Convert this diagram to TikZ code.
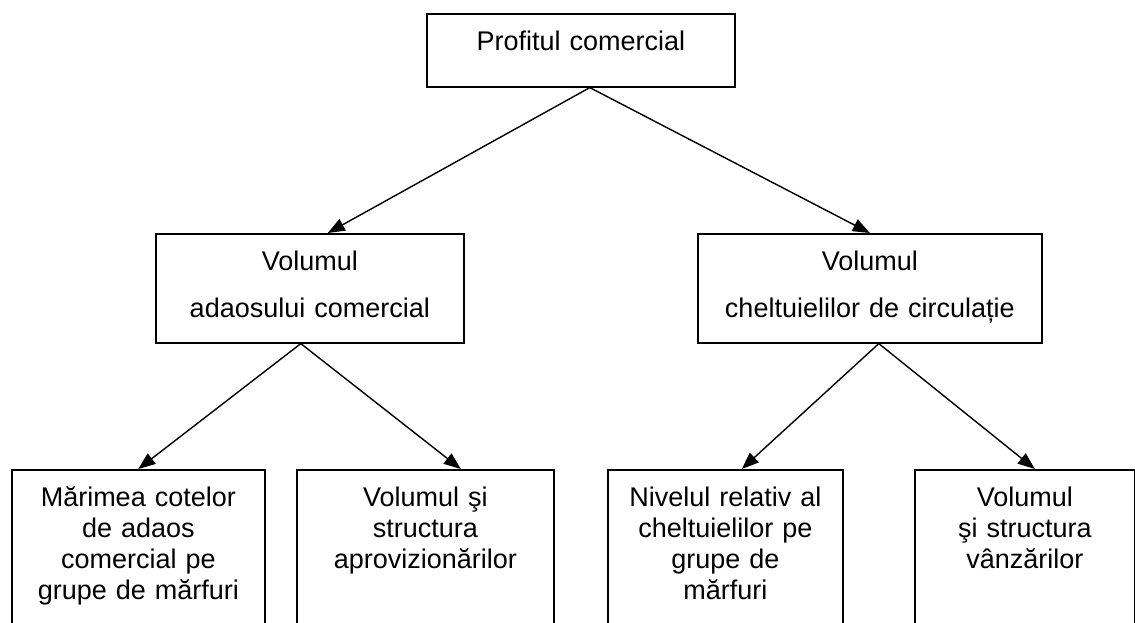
\documentclass[tikz,border=0pt]{standalone}
\usepackage{fontspec}
\setmainfont{Liberation Sans}
\usetikzlibrary{arrows.meta}

\begin{document}
\begin{tikzpicture}[
  x=1pt,y=-1pt,
  box/.style={draw=black,line width=1.6pt,inner sep=0pt,align=center,anchor=north west,
    font=\fontsize{27}{31}\selectfont,text height=36.5pt},
  wide/.style={font=\fontsize{27}{47}\selectfont,text depth=72.5pt},
  leaf/.style={text depth=134.5pt},
  arrow/.style={-{Triangle[length=17pt,width=13pt]},draw=black,line width=1.4pt}
]
  \useasboundingbox (0,0) rectangle (1135,623);
  % top level
  \node[box,text width=308pt,text depth=36.5pt] (profit) at (426,13) {Profitul comercial};
  % second level
  \node[box,wide,text width=308pt] (adaos) at (155,233) {Volumul\\adaosului comercial};
  \node[box,wide,text width=344pt] (cheltuieli) at (697,233) {Volumul\\cheltuielilor de circulație};
  % third level
  \node[box,leaf,text width=253pt] (marimea) at (11,469) {Mărimea cotelor\\de adaos\\comercial pe\\grupe de mărfuri};
  \node[box,leaf,text width=257pt] (aprov) at (296,469) {Volumul şi\\structura\\aprovizionărilor};
  \node[box,leaf,text width=235pt] (nivel) at (607,469) {Nivelul relativ al\\cheltuielilor pe\\grupe de\\mărfuri};
  \node[box,leaf,text width=220pt] (vanzari) at (914,469) {Volumul\\şi structura\\vânzărilor};
  \draw[arrow] ([xshift=9pt]profit.south) -- ([xshift=18pt]adaos.north);
  \draw[arrow] ([xshift=9pt]profit.south) -- (cheltuieli.north);
  \draw[arrow] ([xshift=-9pt]adaos.south) -- (marimea.north);
  \draw[arrow] ([xshift=-9pt]adaos.south) -- ([xshift=35.5pt]aprov.north);
  \draw[arrow] ([xshift=9pt]cheltuieli.south) -- ([xshift=16.5pt]nivel.north);
  \draw[arrow] ([xshift=9pt]cheltuieli.south) -- ([xshift=10pt]vanzari.north);
\end{tikzpicture}
\end{document}
